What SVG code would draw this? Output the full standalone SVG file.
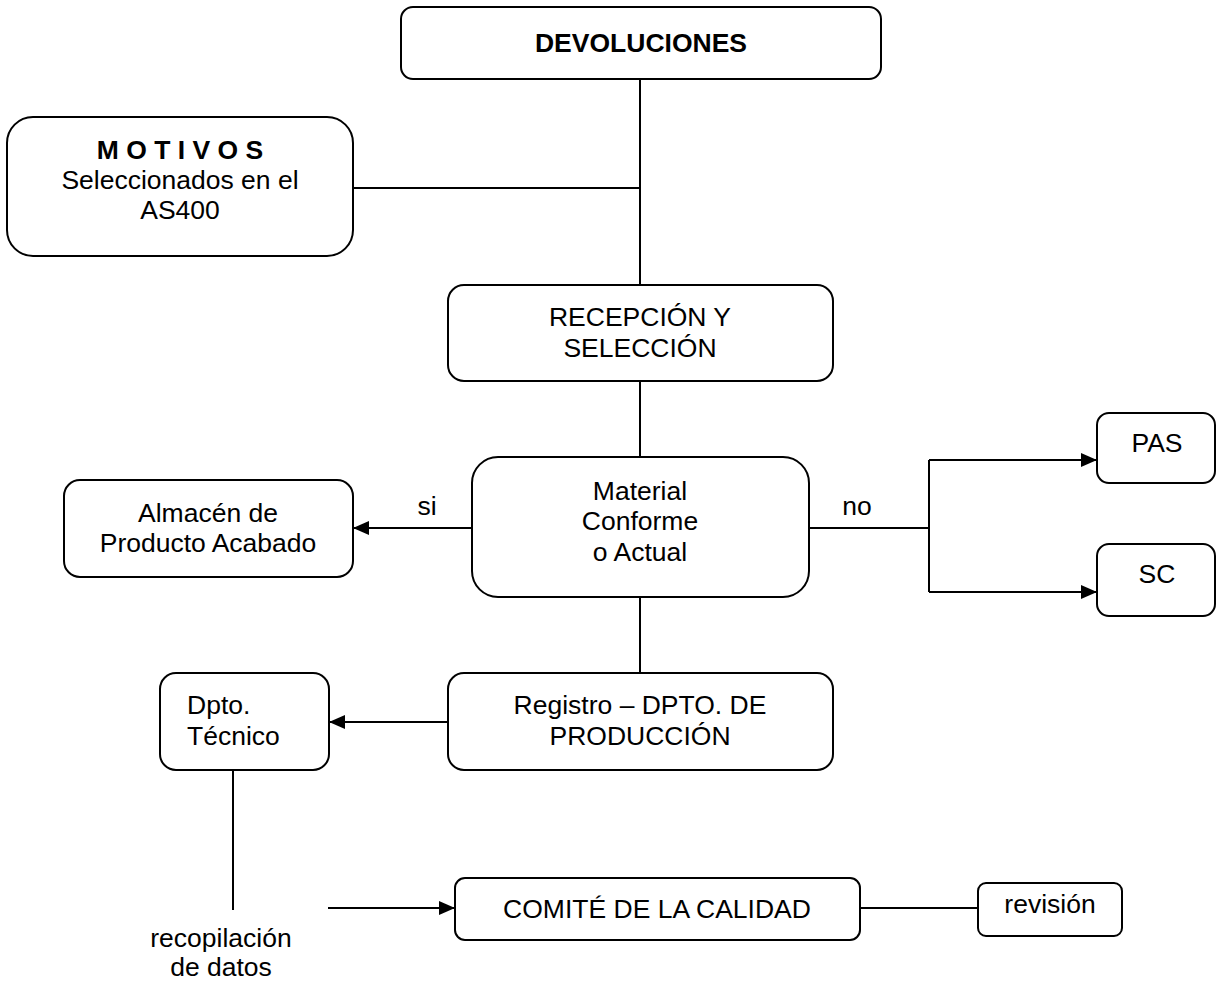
<svg xmlns="http://www.w3.org/2000/svg" width="1216" height="985" viewBox="0 0 1216 985">
<style>
.b{fill:#fff;stroke:#000;stroke-width:2}
.t{font-family:"Liberation Sans",Arial,sans-serif;font-size:26.5px;fill:#000;text-anchor:middle}
.s{text-anchor:start}
.l{fill:none;stroke:#000;stroke-width:2}
</style>
<defs>
<marker id="a" markerWidth="16" markerHeight="14" refX="15" refY="7" orient="auto" markerUnits="userSpaceOnUse">
<path d="M0,0 L16,7 L0,14 Z" fill="#000"/>
</marker>
</defs>
<rect width="1216" height="985" fill="#fff"/>
<g id="connectors">
<path class="l" d="M640,79 V285"/>
<path class="l" d="M353,188 H640"/>
<path class="l" d="M640,381 V457"/>
<path class="l" d="M472,528 H354" marker-end="url(#a)"/>
<path class="l" d="M809,528 H929"/>
<path class="l" d="M929,460 V592"/>
<path class="l" d="M929,460 H1096" marker-end="url(#a)"/>
<path class="l" d="M929,592 H1096" marker-end="url(#a)"/>
<path class="l" d="M640,597 V673"/>
<path class="l" d="M448,722 H330" marker-end="url(#a)"/>
<path class="l" d="M233,770 V910"/>
<path class="l" d="M328,908 H454" marker-end="url(#a)"/>
<path class="l" d="M860,908 H978"/>
<text class="t" x="427" y="515">si</text>
<text class="t" x="857" y="515">no</text>
</g>
<g id="devoluciones"><rect class="b" x="401" y="7" width="480" height="72" rx="12"/><text class="t" x="641" y="52" font-weight="bold">DEVOLUCIONES</text></g>
<g id="motivos"><rect class="b" x="7" y="117" width="346" height="139" rx="26"/><text class="t" x="180" y="159" font-weight="bold">M O T I V O S</text><text class="t" x="180" y="189">Seleccionados en el</text><text class="t" x="180" y="219">AS400</text></g>
<g id="recepcion"><rect class="b" x="448" y="285" width="385" height="96" rx="16"/><text class="t" x="640" y="326">RECEPCIÓN Y</text><text class="t" x="640" y="357">SELECCIÓN</text></g>
<g id="material"><rect class="b" x="472" y="457" width="337" height="140" rx="26"/><text class="t" x="640" y="500">Material</text><text class="t" x="640" y="530">Conforme</text><text class="t" x="640" y="561">o Actual</text></g>
<g id="almacen"><rect class="b" x="64" y="480" width="289" height="97" rx="16"/><text class="t" x="208" y="522">Almacén de</text><text class="t" x="208" y="552">Producto Acabado</text></g>
<g id="pas"><rect class="b" x="1097" y="413" width="118" height="70" rx="12"/><text class="t" x="1157" y="452">PAS</text></g>
<g id="sc"><rect class="b" x="1097" y="544" width="118" height="72" rx="12"/><text class="t" x="1157" y="583">SC</text></g>
<g id="registro"><rect class="b" x="448" y="673" width="385" height="97" rx="16"/><text class="t" x="640" y="714">Registro – DPTO. DE</text><text class="t" x="640" y="745">PRODUCCIÓN</text></g>
<g id="dpto"><rect class="b" x="160" y="673" width="169" height="97" rx="16"/><text class="t s" x="187" y="714">Dpto.</text><text class="t s" x="187" y="745">Técnico</text></g>
<g id="recopilacion"><text class="t" x="221" y="947">recopilación</text><text class="t" x="221" y="976">de datos</text></g>
<g id="comite"><rect class="b" x="455" y="878" width="405" height="62" rx="10"/><text class="t" x="657" y="918">COMITÉ DE LA CALIDAD</text></g>
<g id="revision"><rect class="b" x="978" y="883" width="144" height="53" rx="8"/><text class="t" x="1050" y="913">revisión</text></g>
</svg>
